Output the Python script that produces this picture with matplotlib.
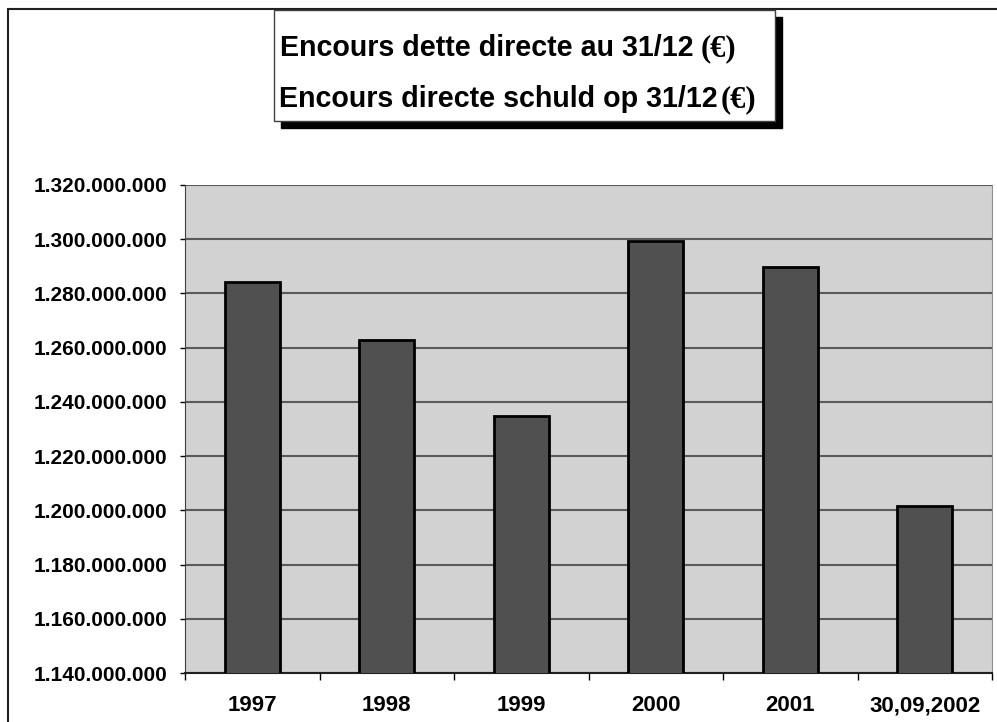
import matplotlib.pyplot as plt
from matplotlib.patches import Rectangle
from matplotlib.ticker import FuncFormatter

# data
categories = ["1997", "1998", "1999", "2000", "2001", "30,09,2002"]
encours = [1284300000, 1263000000, 1234900000, 1299400000, 1289600000, 1201600000]
y_ticks = list(range(1140000000, 1320000001, 20000000))

W, H = 997, 722
fig = plt.figure(figsize=(W / 100, H / 100), dpi=100)
fig.patch.set_facecolor("white")


def px(x, y):
    # pixel (top-left origin) to figure fraction
    return x / W, 1 - y / H


# outer frame, partly cut off on the right and bottom
fig.patches.append(Rectangle(px(7.5, 760), 1100 / W, 751 / H, transform=fig.transFigure,
                             fill=False, edgecolor="#202020", linewidth=1.5))

# plot area
ax = fig.add_axes([185 / W, (H - 673) / H, (992 - 185) / W, (673 - 185) / H])
ax.set_facecolor("#d2d2d2")
x = range(len(categories))
ax.bar(x, encours, width=0.41, color="#505050", edgecolor="black", linewidth=2, zorder=3)
ax.set_xlim(-0.5, len(categories) - 0.5)
ax.set_ylim(1140000000, 1320000000)
ax.set_yticks(y_ticks)
ax.yaxis.set_major_formatter(FuncFormatter(lambda v, p: f"{int(v):,}".replace(",", ".")))
ax.grid(axis="y", color="#5a5a5a", linewidth=1.5, zorder=1)
ax.set_axisbelow(True)

# category ticks on boundaries, labels centered
ax.set_xticks([i - 0.5 for i in range(len(categories) + 1)])
ax.set_xticklabels([])
ax.set_xticks(list(x), minor=True)
ax.set_xticklabels(categories, minor=True)
ax.tick_params(axis="x", which="major", length=5, width=1, color="black", direction="out")
ax.tick_params(axis="x", which="minor", length=0, pad=16)
ax.tick_params(axis="y", length=3.6, width=1, color="black", pad=9.4)
for lbl in ax.get_yticklabels():
    lbl.set_fontfamily("Liberation Sans")
    lbl.set_fontweight("bold")
    lbl.set_fontsize(15)
for lbl in ax.get_xticklabels(minor=True):
    lbl.set_fontfamily("Liberation Sans")
    lbl.set_fontweight("bold")
    lbl.set_fontsize(16)

ax.spines["top"].set_visible(False)
ax.spines["left"].set_color("#404040")
ax.spines["bottom"].set_color("#202020")
ax.spines["right"].set_color("#909090")
ax.spines["bottom"].set_linewidth(1.5)

# title box with shadow
fig.patches.append(Rectangle(px(281, 128), 501 / W, 111 / H, transform=fig.transFigure,
                             facecolor="black", edgecolor="black", zorder=1))
fig.patches.append(Rectangle(px(274, 121), 501 / W, 111 / H, transform=fig.transFigure,
                             facecolor="white", edgecolor="#404040", linewidth=1, zorder=2))

sans = dict(fontfamily="Liberation Sans", fontweight="bold", fontsize=20.6, zorder=3)
serif = dict(fontfamily="Liberation Serif", fontweight="bold", fontsize=22, zorder=3)
fig.text(*px(693, 56), "Encours dette directe au 31/12", ha="right", va="baseline", **sans)
fig.text(*px(701, 56), "(€)", ha="left", va="baseline", **serif)
fig.text(*px(718, 107), "Encours directe schuld op 31/12", ha="right", va="baseline", **sans)
fig.text(*px(721, 107), "(€)", ha="left", va="baseline", **serif)

fig.savefig("out.png", dpi=100)
